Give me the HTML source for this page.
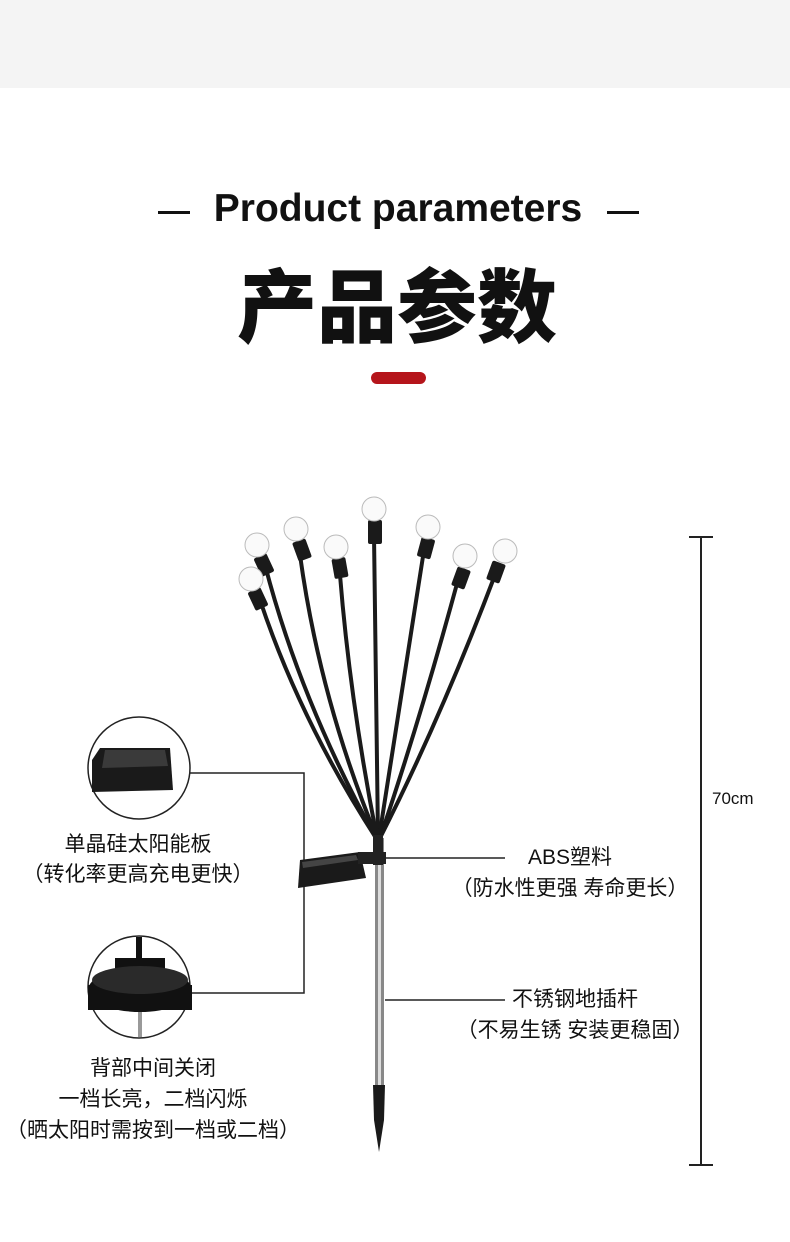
<!DOCTYPE html>
<html><head><meta charset="utf-8"><style>
body{margin:0;width:790px;height:1242px;background:#fff;position:relative;overflow:hidden;font-family:"Liberation Sans","Noto Sans CJK SC",sans-serif;color:#111}
.t{position:absolute;white-space:nowrap}
.c{font-size:21px;text-align:center;font-family:"Liberation Sans","Noto Sans CJK SC",sans-serif}
</style></head><body>
<div style="position:absolute;left:0;top:0;width:790px;height:88px;background:#f4f4f4"></div>
<div style="position:absolute;left:158px;top:211px;width:32px;height:3px;background:#111"></div>
<div style="position:absolute;left:607px;top:211px;width:32px;height:3px;background:#111"></div>
<div class="t" style="left:198px;width:400px;text-align:center;top:187px;font-size:39px;font-weight:bold">Product parameters</div>
<div class="t" style="left:0;width:794px;text-align:center;top:254px;font-size:80px;font-weight:900;font-family:'Noto Sans CJK SC',sans-serif;line-height:96px">产品参数</div>
<div style="position:absolute;left:371px;top:372px;width:55px;height:12px;border-radius:6px;background:#b5151b"></div>
<svg width="790" height="1242" style="position:absolute;left:0;top:0">
<g stroke="#222" stroke-width="1.5" fill="none">
<polyline points="190,773 304,773 304,993 190,993"/>
<line x1="385" y1="858" x2="505" y2="858"/>
<line x1="385" y1="1000" x2="505" y2="1000"/>
<line x1="701" y1="537" x2="701" y2="1165" stroke-width="2"/>
<line x1="689" y1="537" x2="713" y2="537" stroke-width="2"/>
<line x1="689" y1="1165" x2="713" y2="1165" stroke-width="2"/>
</g>
<g stroke="#1a1a1a" stroke-width="4" fill="none" stroke-linecap="round">
<path d="M265,565 Q300,700 376,838"/>
<path d="M260,600 Q300,720 376,838"/>
<path d="M300,555 Q320,700 377,838"/>
<path d="M340,575 Q350,700 377,838"/>
<path d="M374,535 L378,838"/>
<path d="M424,550 Q400,700 379,838"/>
<path d="M458,580 Q420,720 380,838"/>
<path d="M495,575 Q440,720 380,838"/>
</g>
<g fill="#1a1a1a">
<rect x="257" y="555" width="14" height="20" rx="2" transform="rotate(-25 264 565)"/>
<rect x="251" y="589" width="14" height="20" rx="2" transform="rotate(-25 258 599)"/>
<rect x="295" y="540" width="14" height="20" rx="2" transform="rotate(-20 302 550)"/>
<rect x="333" y="558" width="14" height="20" rx="2" transform="rotate(-10 340 568)"/>
<rect x="368" y="520" width="14" height="24" rx="2"/>
<rect x="419" y="538" width="14" height="20" rx="2" transform="rotate(15 426 548)"/>
<rect x="454" y="568" width="14" height="20" rx="2" transform="rotate(20 461 578)"/>
<rect x="489" y="562" width="14" height="20" rx="2" transform="rotate(20 496 572)"/>
</g>
<g fill="#fafafa" stroke="#bbb" stroke-width="1">
<circle cx="257" cy="545" r="12"/><circle cx="251" cy="579" r="12"/><circle cx="296" cy="529" r="12"/><circle cx="336" cy="547" r="12"/><circle cx="374" cy="509" r="12"/><circle cx="428" cy="527" r="12"/><circle cx="465" cy="556" r="12"/><circle cx="505" cy="551" r="12"/>
</g>
<rect x="375" y="838" width="9" height="250" fill="#888"/>
<rect x="378" y="838" width="3" height="250" fill="#ddd"/>
<rect x="373" y="835" width="10" height="30" fill="#222"/>
<path d="M373,1085 L385,1085 L384,1120 L379,1152 L374,1120 Z" fill="#1a1a1a"/>
<path d="M300,860 L360,852 L366,878 L298,888 Z" fill="#1a1a1a"/>
<path d="M302,862 L356,855 L358,860 L303,868 Z" fill="#444"/>
<rect x="358" y="852" width="28" height="12" fill="#222"/>
<g stroke="#222" stroke-width="1.5" fill="#fff">
<circle cx="139" cy="768" r="51"/><circle cx="139" cy="987" r="51"/>
</g>
<path d="M92,760 L100,748 L170,748 L173,790 L92,792 Z" fill="#1a1a1a"/>
<path d="M105,750 L165,750 L168,766 L102,768 Z" fill="#3a3a3a"/>
<rect x="136" y="937" width="6" height="30" fill="#111"/>
<rect x="115" y="958" width="50" height="12" fill="#111"/>
<ellipse cx="140" cy="990" rx="52" ry="22" fill="#111"/>
<rect x="88" y="985" width="104" height="25" fill="#111"/>
<ellipse cx="140" cy="980" rx="48" ry="14" fill="#2a2a2a"/>
<rect x="138" y="1012" width="4" height="25" fill="#999"/>
</svg>
<div class="t c" style="left:18px;top:830px;width:240px;line-height:30px">单晶硅太阳能板<br>（转化率更高充电更快）</div>
<div class="t c" style="left:0;top:1053px;width:306px;line-height:31px">背部中间关闭<br>一档长亮，二档闪烁<br>（晒太阳时需按到一档或二档）</div>
<div class="t c" style="left:450px;top:842px;width:240px;line-height:31px">ABS塑料<br>（防水性更强 寿命更长）</div>
<div class="t c" style="left:455px;top:984px;width:240px;line-height:31px">不锈钢地插杆<br>（不易生锈 安装更稳固）</div>
<div class="t" style="left:712px;top:789px;font-size:17px">70cm</div>
</body></html>
